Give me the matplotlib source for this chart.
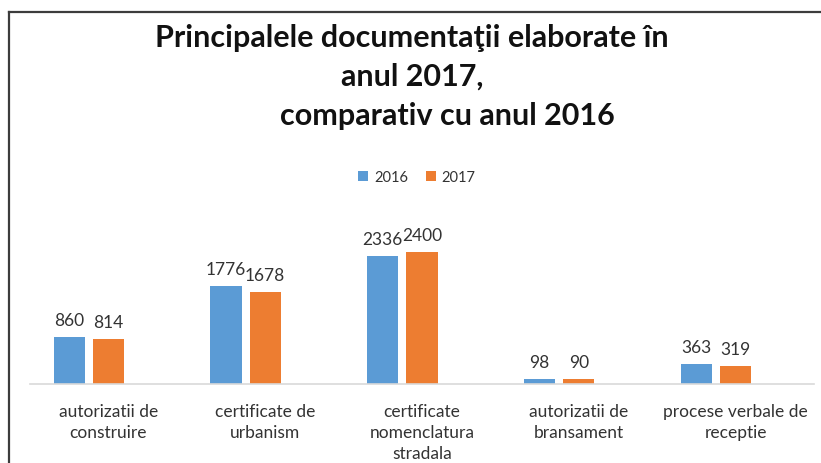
import matplotlib
matplotlib.use("Agg")
import matplotlib.pyplot as plt
from matplotlib.lines import Line2D
import numpy as np

plt.rcParams['font.family'] = ['Lato', 'DejaVu Sans']

categories = ["autorizatii de\nconstruire", "certificate de\nurbanism",
              "certificate\nnomenclatura\nstradala", "autorizatii de\nbransament",
              "procese verbale de\nreceptie"]
series_names = ["2016", "2017"]
values_2016 = [860, 1776, 2336, 98, 363]
values_2017 = [814, 1678, 2400, 90, 319]
title_lines = ["Principalele documentaţii elaborate în", "anul 2017,", "comparativ cu anul 2016"]

BLUE = "#5B9BD5"
ORANGE = "#ED7D31"
TXT = "#333333"

fig = plt.figure(figsize=(8.21, 4.64), dpi=100)
ax = fig.add_axes([30/821, 1-385/464, (814-30)/821, 164.8/464])

x = np.arange(len(categories))
w = 0.2
b1 = ax.bar(x - 0.25, values_2016, w, color=BLUE, label=series_names[0])
b2 = ax.bar(x, values_2017, w, color=ORANGE, label=series_names[1])

for bars, vals in ((b1, values_2016), (b2, values_2017)):
    for r, v in zip(bars, vals):
        ax.annotate(str(v), (r.get_x() + r.get_width()/2, r.get_height()),
                    xytext=(0, 6.5), textcoords="offset points", ha="center", va="bottom",
                    fontsize=12.5, color=TXT)

ax.set_xlim(-0.5, 4.5)
ax.set_ylim(0, 3000)
ax.set_xticks(x)
ax.set_xticklabels(categories, fontsize=12.5, color=TXT, linespacing=1.35)
ax.tick_params(axis='x', length=0, pad=14)
ax.set_yticks([])
for s in ("top", "right", "left"):
    ax.spines[s].set_visible(False)
ax.spines["bottom"].set_color("#D9D9D9")
ax.spines["bottom"].set_linewidth(1.2)

# Title
title_x = [412/821, 412/821, 447/821]
title_y = [1-38/464, 1-77/464, 1-116/464]
for t, tx, ty in zip(title_lines, title_x, title_y):
    fig.text(tx, ty, t, ha="center", va="center", fontsize=22, fontweight="bold", color="#111111")

# Legend
fig.legend(handles=[b1, b2], loc="center", bbox_to_anchor=(417/821, 1-178/464), ncol=2,
           frameon=False, fontsize=10.5, handlelength=0.7, handleheight=0.7,
           handletextpad=0.4, columnspacing=1.2, labelcolor=TXT)

# Border (top and left)
fig.add_artist(Line2D([9/821, 1.0], [1-13/464, 1-13/464], transform=fig.transFigure,
                      color="#3c3c3c", lw=1.6))
fig.add_artist(Line2D([9/821, 9/821], [0, 1-13/464], transform=fig.transFigure,
                      color="#3c3c3c", lw=1.6))

fig.savefig("out.png", dpi=100, facecolor="white")
